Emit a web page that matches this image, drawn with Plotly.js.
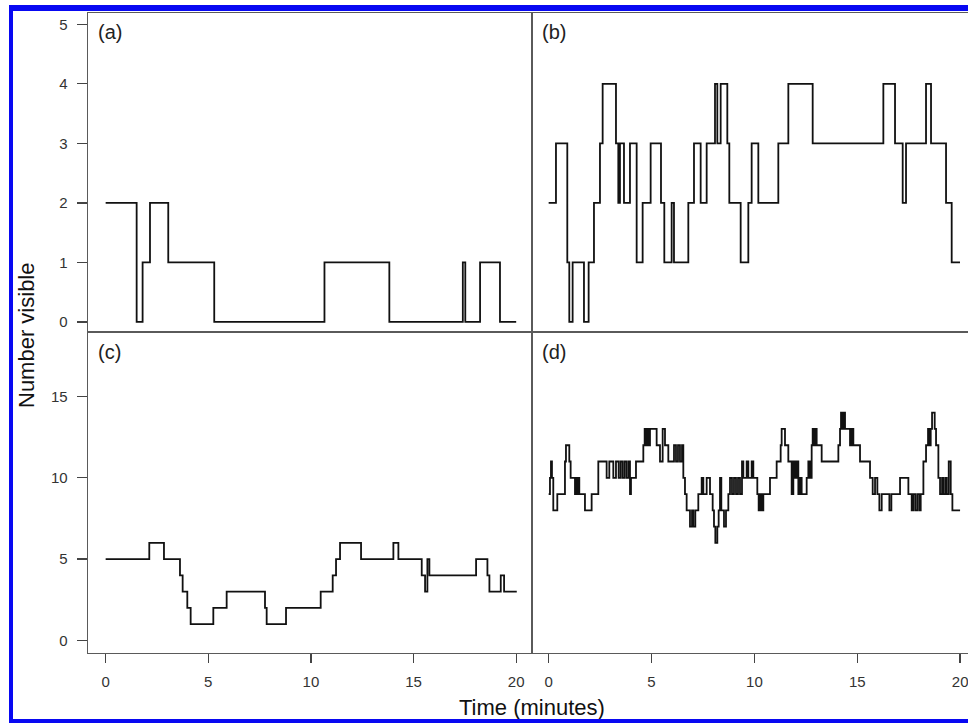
<!DOCTYPE html>
<html>
<head>
<meta charset="utf-8">
<script src="https://cdn.plot.ly/plotly-3.0.1.min.js"></script>
<style>
html, body { margin:0; padding:0; width:968px; height:723px; overflow:hidden; background:#fff; }
#chart { position:absolute; left:0; top:0; width:990px; height:723px; }
#frame { position:absolute; left:9px; top:5px; width:1000px; height:708px;
  border-left:4px solid #0808f2; border-top:6px solid #0808f2; border-bottom:5px solid #0808f2;
  pointer-events:none; }
</style>
</head>
<body>
<div id="chart"></div>
<div id="frame"></div>
<script>
// ---- data (time in minutes, number visible) ----
const timeA  = [0, 1.51, 1.80, 2.16, 3.05, 5.29, 10.66, 13.82, 17.40, 17.52, 18.24, 19.21, 20.0];
const countA = [2, 0, 1, 2, 1, 0, 1, 0, 1, 0, 1, 0, 0];

const timeB  = [0, 0.355, 0.906, 1.003, 1.165, 1.716, 1.943, 2.202, 2.494, 2.624,
                3.272, 3.385, 3.466, 3.661, 3.952, 4.277, 4.568, 4.957, 5.460, 5.621,
                5.978, 6.091, 6.788, 7.064, 7.388, 7.680, 8.085, 8.198, 8.360, 8.684,
                8.781, 9.333, 9.705, 9.867, 10.191, 11.163, 11.650, 12.833, 16.268, 16.835,
                17.208, 17.370, 18.342, 18.585, 19.315, 19.590, 19.995];
const countB = [2, 3, 1, 0, 1, 0, 1, 2, 3, 4,
                3, 2, 3, 2, 3, 1, 2, 3, 2, 1,
                2, 1, 2, 3, 2, 3, 4, 3, 4, 3,
                2, 1, 2, 3, 2, 3, 4, 3, 4, 3,
                2, 3, 4, 3, 2, 1, 1];

const timeC  = [0, 2.126, 2.841, 3.621, 3.751, 3.978, 4.141, 5.245, 5.895, 7.763,
                7.844, 8.787, 10.476, 11.061, 11.223, 11.418, 12.442, 14.017, 14.261, 15.398,
                15.561, 15.674, 15.771, 18.046, 18.598, 18.695, 19.248, 19.410, 20.028];
const countC = [5, 6, 5, 4, 3, 2, 1, 2, 3, 2,
                1, 2, 3, 4, 5, 6, 5, 6, 5, 4,
                3, 5, 4, 5, 4, 3, 4, 3, 3];

const timeD  = [0, 0.063, 0.112, 0.160, 0.225, 0.420, 0.792, 0.841, 1.003, 1.068,
                1.279, 1.327, 1.376, 1.424, 1.489, 1.764, 2.089, 2.413, 2.818, 2.948,
                3.142, 3.272, 3.402, 3.499, 3.596, 3.693, 3.790, 3.888, 3.953, 4.001,
                4.244, 4.601, 4.666, 4.731, 4.795, 4.860, 4.925, 5.249, 5.411, 5.541,
                5.654, 5.816, 6.092, 6.189, 6.286, 6.383, 6.481, 6.545, 6.626, 6.707,
                6.869, 6.967, 7.031, 7.128, 7.274, 7.437, 7.518, 7.680, 7.842, 7.972,
                8.036, 8.101, 8.198, 8.263, 8.328, 8.392, 8.522, 8.619, 8.733, 8.814,
                8.911, 9.008, 9.106, 9.203, 9.300, 9.397, 9.462, 9.624, 9.705, 9.867,
                9.948, 10.142, 10.207, 10.272, 10.353, 10.434, 10.758, 11.082, 11.277, 11.325,
                11.487, 11.649, 11.811, 11.893, 11.974, 12.055, 12.136, 12.217, 12.298, 12.541,
                12.622, 12.703, 12.784, 12.833, 12.898, 12.963, 13.027, 13.270, 14.081, 14.162,
                14.210, 14.275, 14.340, 14.405, 14.648, 14.729, 14.810, 15.134, 15.620, 15.750,
                15.864, 15.977, 16.074, 16.188, 16.561, 16.658, 17.079, 17.484, 17.646, 17.727,
                17.825, 17.922, 18.019, 18.084, 18.214, 18.343, 18.440, 18.505, 18.570, 18.635,
                18.764, 18.829, 18.943, 19.024, 19.121, 19.186, 19.283, 19.348, 19.446, 19.543,
                19.624, 19.997];
const countD = [9, 10, 11, 10, 8, 9, 11, 12, 11, 10,
                9, 10, 9, 10, 9, 8, 9, 11, 10, 11,
                10, 11, 10, 11, 10, 11, 10, 11, 9, 10,
                11, 12, 13, 12, 13, 12, 13, 12, 11, 13,
                12, 11, 12, 11, 12, 11, 12, 10, 9, 8,
                7, 8, 7, 8, 9, 10, 9, 10, 9, 8,
                7, 6, 7, 8, 10, 8, 7, 8, 9, 10,
                9, 10, 9, 10, 9, 11, 10, 11, 10, 11,
                10, 9, 8, 9, 8, 9, 10, 11, 12, 13,
                12, 11, 9, 11, 10, 11, 9, 10, 9, 10,
                11, 10, 12, 13, 12, 13, 12, 11, 12, 13,
                14, 13, 14, 13, 12, 13, 12, 11, 10, 9,
                10, 9, 8, 9, 8, 9, 10, 9, 8, 9,
                8, 9, 8, 9, 11, 12, 13, 12, 13, 14,
                13, 12, 10, 9, 10, 9, 10, 9, 11, 9,
                8, 8];

const topTicks    = [0, 1, 2, 3, 4, 5];
const bottomTicks = [0, 5, 10, 15];
const timeTicks   = [0, 5, 10, 15, 20];
const panelLabels = ['(a)', '(b)', '(c)', '(d)'];
const xTitle = 'Time (minutes)';
const yTitle = 'Number visible';

// ---- layout geometry (pixels) ----
const W = 990, H = 723;
const fx = p => p / W;
const fy = p => 1 - p / H;
const xL = [fx(88), fx(532)], xR = [fx(532), fx(977)];
const yT = [fy(332), fy(13)], yB = [fy(653), fy(332)];

const lineStyle = { color: '#111', width: 1.8, shape: 'hv' };
const traces = [
  { x: timeA, y: countA, xaxis: 'x',  yaxis: 'y'  },
  { x: timeB, y: countB, xaxis: 'x2', yaxis: 'y2' },
  { x: timeC, y: countC, xaxis: 'x3', yaxis: 'y3' },
  { x: timeD, y: countD, xaxis: 'x4', yaxis: 'y4' }
].map(t => Object.assign(t, { type: 'scatter', mode: 'lines', line: lineStyle, hoverinfo: 'skip', showlegend: false }));

const FONT = 'Liberation Sans, Arial, Helvetica, sans-serif';
const base = {
  showgrid: false, zeroline: false, showline: true, mirror: true,
  linecolor: '#5a5a5a', linewidth: 1.4, fixedrange: true,
  tickfont: { family: FONT, size: 15, color: '#333' }
};
const noTicks = { ticks: '', showticklabels: false };
const xTicked = { ticks: 'outside', ticklen: 9, tickwidth: 1.3, tickcolor: '#444',
  tickmode: 'array', tickvals: timeTicks, ticktext: timeTicks.map(String), ticklabelstandoff: 6 };
const yTicked = { ticks: 'outside', ticklen: 10, tickwidth: 1.3, tickcolor: '#444',
  tickmode: 'array', ticklabelstandoff: 6 };

const layout = {
  width: W, height: H,
  margin: { l: 0, r: 0, t: 0, b: 0 },
  paper_bgcolor: '#fff', plot_bgcolor: '#fff',
  font: { family: FONT, color: '#222' },
  xaxis:  Object.assign({}, base, noTicks, { domain: xL, range: [-0.86, 20.77], anchor: 'y' }),
  yaxis:  Object.assign({}, base, yTicked, { domain: yT, range: [-0.17, 5.19], anchor: 'x',
            tickvals: topTicks, ticktext: topTicks.map(String) }),
  xaxis2: Object.assign({}, base, noTicks, { domain: xR, range: [-0.81, 20.82], anchor: 'y2' }),
  yaxis2: Object.assign({}, base, noTicks, { domain: yT, range: [-0.17, 5.19], anchor: 'x2' }),
  xaxis3: Object.assign({}, base, xTicked, { domain: xL, range: [-0.86, 20.77], anchor: 'y3' }),
  yaxis3: Object.assign({}, base, yTicked, { domain: yB, range: [-0.77, 18.96], anchor: 'x3',
            tickvals: bottomTicks, ticktext: bottomTicks.map(String) }),
  xaxis4: Object.assign({}, base, xTicked, { domain: xR, range: [-0.81, 20.82], anchor: 'y4' }),
  yaxis4: Object.assign({}, base, noTicks, { domain: yB, range: [-0.77, 18.96], anchor: 'x4' }),
  annotations: [
    { text: panelLabels[0], x: fx(96), y: fy(32), xanchor: 'left', yanchor: 'middle' },
    { text: panelLabels[1], x: fx(540), y: fy(32), xanchor: 'left', yanchor: 'middle' },
    { text: panelLabels[2], x: fx(96), y: fy(352), xanchor: 'left', yanchor: 'middle' },
    { text: panelLabels[3], x: fx(540), y: fy(352), xanchor: 'left', yanchor: 'middle' },
    { text: xTitle, x: fx(532), y: fy(707), xanchor: 'center', yanchor: 'middle',
      font: { family: FONT, size: 22, color: '#111' } },
    { text: yTitle, x: fx(26), y: fy(335), xanchor: 'center', yanchor: 'middle', textangle: -90,
      font: { family: FONT, size: 22, color: '#111' } }
  ].map(a => Object.assign({ xref: 'paper', yref: 'paper', showarrow: false,
      font: { family: FONT, size: 20, color: '#222' } }, a))
};

Plotly.newPlot('chart', traces, layout, { staticPlot: true, displayModeBar: false });
</script>
</body>
</html>
